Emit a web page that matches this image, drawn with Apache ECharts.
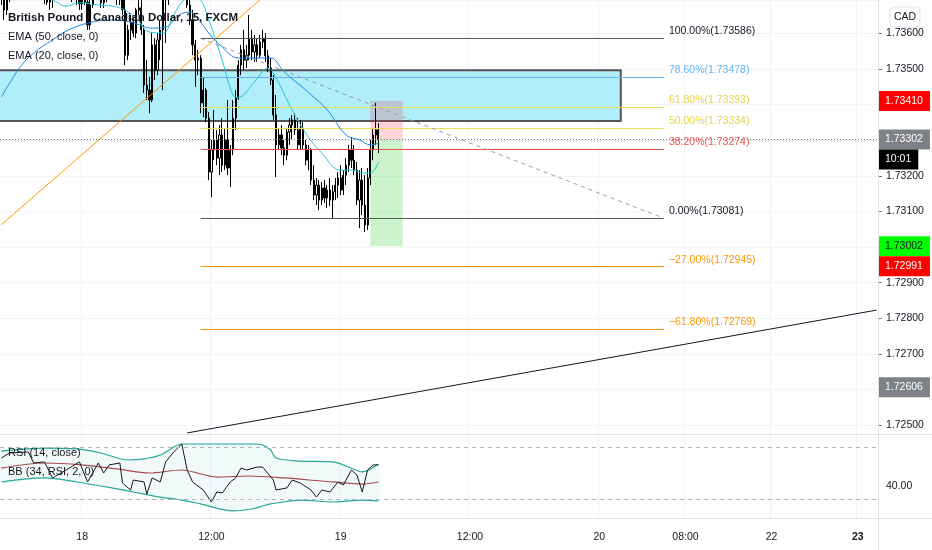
<!DOCTYPE html>
<html><head><meta charset="utf-8">
<script src="https://cdn.jsdelivr.net/npm/echarts@6.0.0/dist/echarts.min.js"></script>
<style>html,body{margin:0;padding:0;background:#fff;}#c{width:932px;height:550px;}</style>
</head><body><div id="c"></div>
<script>
// ---------- data ----------
const N_BARS = 326;
const tickIdx  = [30, 78, 126, 174, 222, 254, 286, 318];
const tickText = ['18', '12:00', '19', '12:00', '20', '08:00', '22', '23'];
const tickBold = [false, false, false, false, false, false, false, true];

const openP = [1.73736,1.73708,1.73666,1.73708,1.73750,1.73773,1.73756,1.73736,1.73764,1.73778,
1.73764,1.73745,1.73728,1.73750,1.73736,1.73722,1.73708,1.73728,1.73688,1.73708,
1.73736,1.73756,1.73773,1.73764,1.73745,1.73728,1.73716,1.73736,1.73722,1.73700,
1.73683,1.73716,1.73688,1.73624,1.73680,1.73716,1.73736,1.73708,1.73686,1.73711,
1.73728,1.73750,1.73736,1.73716,1.73702,1.73694,1.73666,1.73539,1.73610,1.73632,
1.73601,1.73666,1.73672,1.73610,1.73455,1.73441,1.73413,1.73568,1.73497,1.73582,
1.73610,1.73694,1.73716,1.73745,1.73773,1.73756,1.73778,1.73764,1.73745,1.73722,
1.73680,1.73638,1.73568,1.73525,1.73531,1.73405,1.73441,1.73362,1.73211,1.73273,
1.73301,1.73250,1.73315,1.73230,1.73301,1.73222,1.73273,1.73362,1.73419,1.73511,
1.73554,1.73525,1.73539,1.73587,1.73548,1.73568,1.73539,1.73576,1.73587,1.73537,
1.73503,1.73469,1.73371,1.73287,1.73315,1.73278,1.73258,1.73323,1.73343,1.73357,
1.73329,1.73287,1.73334,1.73287,1.73244,1.73273,1.73188,1.73146,1.73174,1.73132,
1.73166,1.73138,1.73160,1.73132,1.73155,1.73174,1.73194,1.73160,1.73202,1.73230,
1.73273,1.73244,1.73216,1.73132,1.73188,1.73118,1.73062,1.73194,1.73273,1.73315,
1.73329];
const closeP = [1.73708,1.73666,1.73708,1.73750,1.73773,1.73756,1.73736,1.73764,1.73778,1.73764,
1.73745,1.73728,1.73750,1.73736,1.73722,1.73708,1.73728,1.73688,1.73708,1.73736,
1.73756,1.73773,1.73764,1.73745,1.73728,1.73716,1.73736,1.73722,1.73700,1.73683,
1.73716,1.73688,1.73624,1.73680,1.73716,1.73736,1.73708,1.73686,1.73711,1.73728,
1.73750,1.73736,1.73716,1.73702,1.73694,1.73666,1.73539,1.73610,1.73632,1.73601,
1.73666,1.73672,1.73610,1.73455,1.73441,1.73413,1.73568,1.73497,1.73582,1.73610,
1.73694,1.73716,1.73745,1.73773,1.73756,1.73778,1.73764,1.73745,1.73722,1.73680,
1.73638,1.73568,1.73525,1.73531,1.73405,1.73441,1.73362,1.73211,1.73273,1.73301,
1.73250,1.73315,1.73230,1.73301,1.73222,1.73273,1.73362,1.73419,1.73511,1.73554,
1.73525,1.73539,1.73587,1.73548,1.73568,1.73539,1.73576,1.73587,1.73537,1.73503,
1.73469,1.73371,1.73287,1.73315,1.73278,1.73258,1.73323,1.73343,1.73357,1.73329,
1.73287,1.73334,1.73287,1.73244,1.73273,1.73188,1.73146,1.73174,1.73132,1.73166,
1.73138,1.73160,1.73132,1.73155,1.73174,1.73194,1.73160,1.73202,1.73230,1.73273,
1.73244,1.73216,1.73132,1.73188,1.73118,1.73062,1.73194,1.73273,1.73315,1.73329,
1.73302];
const highP = [1.73778,1.73750,1.73722,1.73764,1.73792,1.73806,1.73792,1.73778,1.73801,1.73812,
1.73792,1.73778,1.73764,1.73784,1.73773,1.73756,1.73745,1.73750,1.73716,1.73745,
1.73773,1.73792,1.73806,1.73792,1.73778,1.73756,1.73750,1.73764,1.73750,1.73728,
1.73728,1.73745,1.73708,1.73694,1.73722,1.73750,1.73764,1.73736,1.73716,1.73745,
1.73764,1.73778,1.73764,1.73750,1.73728,1.73716,1.73708,1.73624,1.73652,1.73643,
1.73672,1.73722,1.73694,1.73624,1.73525,1.73478,1.73601,1.73587,1.73601,1.73638,
1.73722,1.73736,1.73764,1.73792,1.73806,1.73801,1.73820,1.73806,1.73778,1.73756,
1.73708,1.73666,1.73582,1.73554,1.73539,1.73478,1.73447,1.73379,1.73301,1.73385,
1.73329,1.73343,1.73362,1.73334,1.73413,1.73287,1.73413,1.73441,1.73525,1.73568,
1.73610,1.73568,1.73652,1.73610,1.73596,1.73587,1.73596,1.73610,1.73601,1.73554,
1.73531,1.73483,1.73427,1.73334,1.73343,1.73301,1.73334,1.73362,1.73371,1.73376,
1.73362,1.73357,1.73351,1.73301,1.73287,1.73278,1.73230,1.73194,1.73188,1.73183,
1.73188,1.73174,1.73194,1.73174,1.73194,1.73211,1.73230,1.73216,1.73250,1.73287,
1.73309,1.73287,1.73239,1.73216,1.73222,1.73202,1.73222,1.73301,1.73334,1.73405,
1.73348];
const lowP = [1.73680,1.73638,1.73652,1.73688,1.73722,1.73736,1.73722,1.73708,1.73736,1.73750,
1.73728,1.73716,1.73700,1.73722,1.73708,1.73694,1.73683,1.73680,1.73666,1.73672,
1.73711,1.73728,1.73745,1.73728,1.73716,1.73700,1.73688,1.73705,1.73680,1.73666,
1.73666,1.73680,1.73610,1.73610,1.73672,1.73694,1.73708,1.73672,1.73672,1.73688,
1.73708,1.73722,1.73700,1.73680,1.73680,1.73652,1.73511,1.73525,1.73582,1.73590,
1.73587,1.73652,1.73596,1.73433,1.73413,1.73376,1.73407,1.73469,1.73483,1.73525,
1.73441,1.73573,1.73680,1.73716,1.73736,1.73722,1.73750,1.73728,1.73708,1.73672,
1.73624,1.73539,1.73450,1.73483,1.73376,1.73365,1.73351,1.73188,1.73140,1.73244,
1.73230,1.73202,1.73211,1.73216,1.73202,1.73169,1.73258,1.73329,1.73413,1.73483,
1.73497,1.73503,1.73525,1.73525,1.73520,1.73520,1.73531,1.73559,1.73520,1.73492,
1.73455,1.73357,1.73197,1.73273,1.73258,1.73230,1.73244,1.73287,1.73301,1.73315,
1.73273,1.73273,1.73273,1.73230,1.73216,1.73174,1.73132,1.73118,1.73104,1.73118,
1.73124,1.73110,1.73115,1.73081,1.73132,1.73138,1.73146,1.73146,1.73174,1.73211,
1.73222,1.73202,1.73118,1.73053,1.73090,1.73042,1.73048,1.73174,1.73244,1.73287,
1.73264];

const ema50 = [[0,1.73421],[7,1.73506],[12,1.73545],[19,1.73582],[25,1.73610],[32,1.73629],[40,1.73638],
[48,1.73632],[56,1.73615],[61,1.73618],[66,1.73652],[70,1.73660],[74,1.73632],[77,1.73601],[82,1.73562],
[88,1.73531],[96,1.73531],[100,1.73531],[105,1.73492],[113,1.73441],[121,1.73385],[128,1.73315],
[133,1.73301],[137,1.73287],[140,1.73292]];
const ema20 = [[0,1.73736],[10,1.73716],[19,1.73694],[24,1.73677],[29,1.73686],[36,1.73680],[44,1.73672],
[50,1.73643],[55,1.73604],[60,1.73601],[64,1.73652],[67,1.73688],[70,1.73702],[73,1.73700],[77,1.73638],
[82,1.73525],[86,1.73427],[88,1.73421],[94,1.73464],[99,1.73503],[102,1.73475],[107,1.73399],[113,1.73320],
[119,1.73264],[126,1.73216],[131,1.73216],[134,1.73208],[137,1.73208],[140,1.73239]];

const fibRatio = [1.0, 0.786, 0.618, 0.5, 0.382, 0.0, -0.27, -0.618];
const fibPrice = [1.73586, 1.73478, 1.73393, 1.73334, 1.73274, 1.73081, 1.72945, 1.72769];
const fibSpan = [74, 246];
const fibTrend = [[74, 1.73586], [246, 1.73081]];
const orangeLine = [[0, 1.73063], [96, 1.73694]];
const blackLine = [[69, 1.72478], [325, 1.72823]];
const zone = [0, 230, 1.73497, 1.73354];
const position = [137, 149, 1.73410, 1.73302, 1.73002];

const lastPrice = 1.73302;
const countdown = '10:01';
const badgePrices = [1.73410, 1.73002, 1.72991, 1.72606];

const rsi = [[0,61.5],[3,65.4],[10,66.2],[12,57.7],[16,58.5],[19,46.2],[24,52.3],[29,58.5],[32,43.1],[36,57.7],
[38,50.0],[40,56.2],[44,57.7],[45,42.3],[48,36.9],[49,44.6],[53,43.1],[54,33.8],[56,46.2],[59,43.1],[61,58.5],
[64,66.2],[67,72.3],[69,52.3],[71,43.1],[75,36.9],[78,27.7],[80,35.4],[82,34.6],[85,43.1],[87,46.2],[89,53.8],
[91,52.3],[95,54.6],[97,54.6],[101,44.6],[102,36.9],[106,38.5],[108,44.6],[111,42.3],[115,36.9],[117,31.5],
[119,36.9],[122,35.4],[125,43.1],[127,40.8],[130,52.3],[132,48.5],[134,35.4],[136,52.3],[138,56.2],[140,56.2]];
const bbIdx   = [0,16,28,37,47,53,59,67,74,86,93,97,100,102,111,123,129,134,140];
const bbUpper = [66.9,69.2,68.5,65.4,60.0,60.8,63.8,72.3,72.3,72.3,72.3,71.5,67.7,61.5,59.2,58.5,54.6,50.8,56.9];
const bbLower = [43.1,46.2,43.1,40.0,36.2,33.8,31.5,29.2,26.2,20.8,22.3,24.6,26.2,26.9,29.2,27.7,28.5,29.2,28.5];
const bbBasis = [[0,53.8],[16,57.7],[30,56.2],[43,53.1],[55,50.0],[67,52.3],[80,46.9],[92,47.7],[105,46.2],[123,43.1],[134,41.5],[140,43.1]];
const rsiLevels = [70, 30];

// ---------- styles ----------
const FONT = '"Liberation Sans", Arial, sans-serif';
const TXT = '#131722';
const fibColor = ['#555555', '#64b5f6', '#eedc52', '#eedc52', '#ef5350', '#555555', '#ff9800', '#ff9800'];
const fibLabelColor = ['#131722', '#64b5f6', '#e6d34c', '#e6d34c', '#ef5350', '#131722', '#ff9800', '#ff9800'];
const drawFill = ['rgb(176,238,250)', 'rgba(242,54,69,0.22)', 'rgba(0,200,0,0.2)'];
const badgeBg = ['#ff0000', '#00ff00', '#ff0000', '#7f8189'];
const badgeFg = ['#ffffff', '#131722', '#ffffff', '#ffffff'];
const badgeOff = [0, 0, 16, 0];

// ---------- build ----------
const categories = Array.from({length: N_BARS}, (_, i) => i);
const candles = openP.map((o, i) => [o, closeP[i], lowP[i], highP[i]]);
const fmtPct = r => (r < 0 ? '\u2212' : '') + Math.abs(r * 100).toFixed(2) + '%';

const fibLines = fibRatio.map((r, i) => [
  { coord: [fibSpan[0], fibPrice[i]], lineStyle: { color: fibColor[i], width: 1, type: 'solid' },
    label: { show: true, position: 'end', distance: 5, offset: [0, -7],
      formatter: fmtPct(r) + '(' + fibPrice[i].toFixed(5) + ')',
      color: fibLabelColor[i], fontSize: 10.5, fontFamily: FONT } },
  { coord: [fibSpan[1], fibPrice[i]] }
]);
const segs = [
  [{ coord: fibTrend[0], lineStyle: { color: '#9a9a9a', width: 1, type: [4, 4] }, label: { show: false } }, { coord: fibTrend[1] }],
  [{ coord: orangeLine[0], lineStyle: { color: '#ff9800', width: 1, type: 'solid' }, label: { show: false } }, { coord: orangeLine[1] }],
  [{ coord: blackLine[0], lineStyle: { color: '#131722', width: 1, type: 'solid' }, label: { show: false } }, { coord: blackLine[1] }]
];

function badge(value, text, bg, fg, offY, lineStyle) {
  return {
    yAxis: value,
    lineStyle: lineStyle || { color: 'rgba(0,0,0,0)', width: 0 },
    label: { show: true, position: 'end', distance: 0, offset: [0, offY], formatter: text,
      backgroundColor: bg, color: fg, padding: [5, 7, 4, 7], fontSize: 10.5, fontFamily: FONT }
  };
}
const badges = badgePrices.map((p, i) => badge(p, p.toFixed(5), badgeBg[i], badgeFg[i], badgeOff[i]));
badges.push(badge(lastPrice, lastPrice.toFixed(5), '#7f8189', '#ffffff', 0, { color: '#6a6d78', type: [1, 2], width: 1 }));
badges.push(badge(lastPrice, countdown, '#000000', '#ffffff', 20));

const hiddenLabels = [1.734, 1.733, 1.730, 1.726];
const splitX = { show: true, interval: (i) => tickIdx.indexOf(i) >= 0, lineStyle: { color: '#f0f3fa', width: 1 } };

const chart = echarts.init(document.getElementById('c'), null, { renderer: 'canvas' });
chart.setOption({
  animation: false,
  backgroundColor: '#ffffff',
  textStyle: { fontFamily: FONT },
  grid: [
    { left: 0, right: 54, top: 0, height: 434 },
    { left: 0, right: 54, top: 434, height: 84.5 }
  ],
  xAxis: [
    { type: 'category', gridIndex: 0, data: categories, boundaryGap: true,
      axisLine: { show: false }, axisTick: { show: false }, axisLabel: { show: false }, splitLine: splitX },
    { type: 'category', gridIndex: 1, data: categories, boundaryGap: true,
      axisLine: { show: false }, axisTick: { show: false }, splitLine: splitX,
      axisLabel: { show: true, interval: (i) => tickIdx.indexOf(i) >= 0, margin: 13, color: TXT, fontSize: 10.5, fontFamily: FONT,
        formatter: (v, i) => { const k = tickIdx.indexOf(i); if (k < 0) return ''; return tickBold[k] ? '{b|' + tickText[k] + '}' : tickText[k]; },
        rich: { b: { fontWeight: 'bold', fontSize: 10.5, color: TXT, fontFamily: FONT } } } }
  ],
  yAxis: [
    { type: 'value', gridIndex: 0, position: 'right', min: 1.72475, max: 1.73694, splitNumber: 12, scale: true,
      axisLine: { show: false },
      axisTick: { show: true, length: 4, lineStyle: { color: '#787b86' } },
      axisLabel: { showMinLabel: false, showMaxLabel: false, margin: 8, color: TXT, fontSize: 10.5, fontFamily: FONT,
        formatter: v => hiddenLabels.some(h => Math.abs(h - v) < 1e-7) ? '' : v.toFixed(5) },
      splitLine: { show: true, lineStyle: { color: '#f2f4f8' } } },
    { type: 'value', gridIndex: 1, position: 'right', min: 15, max: 80, interval: 5,
      axisLine: { show: false }, axisTick: { show: false }, splitLine: { show: false },
      axisLabel: { margin: 8, color: TXT, fontSize: 10.5, fontFamily: FONT, formatter: v => v === 40 ? '40.00' : '' } }
  ],
  series: [
    { type: 'custom', name: 'drawings', xAxisIndex: 0, yAxisIndex: 0, z: 1, silent: true, clip: true,
      data: [[zone[0], zone[2], zone[1], zone[3]], [position[0], position[2], position[1], position[3]], [position[0], position[3], position[1], position[4]]],
      encode: { x: [0, 2], y: [1, 3] },
      renderItem: (params, api) => {
        const a = api.coord([api.value(0), api.value(1)]);
        const b = api.coord([api.value(2), api.value(3)]);
        const isZone = params.dataIndex === 0;
        const x0 = isZone ? params.coordSys.x - 4 : a[0];
        return { type: 'rect', shape: { x: x0, y: a[1], width: b[0] - x0, height: b[1] - a[1] },
          style: { fill: drawFill[params.dataIndex], stroke: isZone ? '#555555' : null, lineWidth: isZone ? 2 : 0 } };
      } },
    { type: 'candlestick', name: 'GBPCAD', xAxisIndex: 0, yAxisIndex: 0, z: 3, data: candles, barWidth: '62%',
      itemStyle: { color: '#ffffff', color0: '#000000', borderColor: '#000000', borderColor0: '#000000', borderWidth: 1 },
      emphasis: { disabled: true },
      markLine: { silent: true, symbol: ['none', 'none'], animation: false, precision: 5, data: fibLines.concat(segs) } },
    { type: 'line', name: 'EMA50', xAxisIndex: 0, yAxisIndex: 0, z: 10, data: ema50, smooth: 0.4, showSymbol: false, clip: false,
      lineStyle: { color: '#1e88e5', width: 1 }, emphasis: { disabled: true },
      markLine: { silent: true, symbol: ['none', 'none'], animation: false, precision: 5, data: badges } },
    { type: 'line', name: 'EMA20', xAxisIndex: 0, yAxisIndex: 0, z: 4, data: ema20, smooth: 0.4, showSymbol: false,
      lineStyle: { color: '#26c6da', width: 1 }, emphasis: { disabled: true } },
    { type: 'custom', name: 'BB fill', xAxisIndex: 1, yAxisIndex: 1, z: 1, silent: true,
      data: [[0, 0]],
      renderItem: (params, api) => {
        const pts = bbIdx.map((x, i) => api.coord([x, bbUpper[i]]));
        const low = bbIdx.map((x, i) => api.coord([x, bbLower[i]])).reverse();
        return { type: 'polygon', shape: { points: pts.concat(low), smooth: 0.3 },
          style: { fill: 'rgba(38,166,154,0.06)', stroke: null } };
      } },
    { type: 'line', name: 'BB upper', xAxisIndex: 1, yAxisIndex: 1, z: 3, data: bbIdx.map((x, i) => [x, bbUpper[i]]),
      smooth: 0.3, showSymbol: false, lineStyle: { color: '#26a69a', width: 1.2 }, emphasis: { disabled: true },
      markLine: { silent: true, symbol: ['none', 'none'], animation: false, label: { show: false },
        lineStyle: { color: '#b2b5be', type: [4, 4], width: 1 }, data: rsiLevels.map(v => ({ yAxis: v })) } },
    { type: 'line', name: 'BB lower', xAxisIndex: 1, yAxisIndex: 1, z: 3, data: bbIdx.map((x, i) => [x, bbLower[i]]),
      smooth: 0.3, showSymbol: false, lineStyle: { color: '#26a69a', width: 1.2 }, emphasis: { disabled: true } },
    { type: 'line', name: 'BB basis', xAxisIndex: 1, yAxisIndex: 1, z: 3, data: bbBasis,
      smooth: 0.3, showSymbol: false, lineStyle: { color: '#a84a4a', width: 1.2 }, emphasis: { disabled: true } },
    { type: 'line', name: 'RSI', xAxisIndex: 1, yAxisIndex: 1, z: 4, data: rsi,
      showSymbol: false, lineStyle: { color: '#131722', width: 1 }, emphasis: { disabled: true } }
  ],
  graphic: [
    { type: 'line', silent: true, z: 50, shape: { x1: 0, y1: 434.5, x2: 932, y2: 434.5 }, style: { stroke: '#e0e3eb', lineWidth: 1 } },
    { type: 'line', silent: true, z: 50, shape: { x1: 0, y1: 518.5, x2: 932, y2: 518.5 }, style: { stroke: '#e0e3eb', lineWidth: 1 } },
    { type: 'line', silent: true, z: 50, shape: { x1: 878.5, y1: 0, x2: 878.5, y2: 550 }, style: { stroke: '#e0e3eb', lineWidth: 1 } },
    { type: 'text', silent: true, z: 60, x: 8, y: 18, style: { text: 'British Pound / Canadian Dollar, 15, FXCM', fill: TXT, font: 'bold 11.5px ' + FONT, verticalAlign: 'middle' } },
    { type: 'text', silent: true, z: 60, x: 8, y: 37, style: { text: 'EMA (50, close, 0)', fill: TXT, font: '11px ' + FONT, verticalAlign: 'middle' } },
    { type: 'text', silent: true, z: 60, x: 8, y: 56, style: { text: 'EMA (20, close, 0)', fill: TXT, font: '11px ' + FONT, verticalAlign: 'middle' } },
    { type: 'text', silent: true, z: 60, x: 8, y: 453, style: { text: 'RSI (14, close)', fill: TXT, font: '11px ' + FONT, verticalAlign: 'middle' } },
    { type: 'text', silent: true, z: 60, x: 8, y: 472, style: { text: 'BB (34, RSI, 2, 0)', fill: TXT, font: '11px ' + FONT, verticalAlign: 'middle' } },
    { type: 'rect', silent: true, z: 60, shape: { x: 890, y: 7, width: 30, height: 20, r: 4 }, style: { fill: '#ffffff', stroke: '#e0e3eb', lineWidth: 1 } },
    { type: 'text', silent: true, z: 61, x: 905, y: 17, style: { text: 'CAD', fill: TXT, font: '10.5px ' + FONT, align: 'center', verticalAlign: 'middle' } }
  ]
});
</script>
</body></html>
